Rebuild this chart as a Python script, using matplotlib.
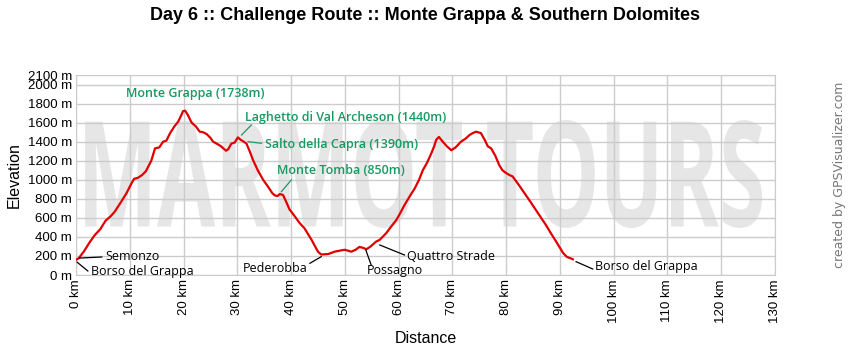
import numpy as np
import matplotlib
matplotlib.use('Agg')
import matplotlib.pyplot as plt
from matplotlib.textpath import TextPath
from matplotlib.patches import PathPatch
from matplotlib.font_manager import FontProperties
from matplotlib.transforms import Affine2D

# profile data (km, m)
dist_km = [0, 0.5, 1.5, 2.5, 3.5, 4.5, 5.5, 6.5, 7.2, 8.3, 9.4, 10.3, 10.8, 11.5, 12.3, 13.0,
           14.0, 14.7, 15.5, 16.2, 16.8, 17.5, 18.3, 19.0, 19.6, 19.9, 20.3, 20.8, 21.5, 22.3,
           23.0, 23.6, 24.3, 25.0, 25.5, 26.3, 27.0, 27.9, 28.3, 28.9, 29.5, 30.1, 30.6, 31.2,
           31.7, 32.3, 32.9, 33.8, 34.8, 35.8, 36.5, 37.0, 37.5, 37.9, 38.5, 39.0, 39.7, 40.7,
           41.6, 42.5, 43.8, 45.0, 45.6, 46.9, 48.1, 49.0, 50.0, 51.2, 52.0, 52.7, 53.4, 54.0,
           54.8, 55.8, 56.5, 57.7, 58.5, 59.6, 60.3, 61.1, 62.0, 63.0, 63.8, 64.5, 65.3, 66.1,
           66.6, 67.0, 67.5, 68.2, 69.0, 69.8, 70.6, 71.6, 72.4, 73.2, 73.8, 74.4, 75.3, 76.0,
           76.6, 77.2, 78.0, 78.7, 79.3, 80.0, 80.6, 81.2, 82.3, 83.4, 84.5, 85.5, 86.5, 87.4,
           88.3, 89.2, 89.9, 90.6, 91.3, 92.0, 92.4]
elev_m = [160, 175, 250, 340, 420, 480, 570, 620, 665, 760, 860, 960, 1010, 1020, 1050, 1090,
          1200, 1330, 1340, 1400, 1410, 1490, 1560, 1610, 1680, 1720, 1725, 1680, 1600, 1560,
          1505, 1500, 1480, 1440, 1400, 1375, 1350, 1305, 1320, 1380, 1390, 1445, 1420, 1400,
          1380, 1300, 1210, 1100, 1000, 920, 860, 835, 830, 850, 840, 780, 690, 615,
          545, 490, 370, 245, 215, 220, 245, 255, 265, 245, 265, 295, 285, 270,
          300, 350, 370, 440, 500, 580, 650, 735, 820, 910, 1000, 1100, 1180, 1280,
          1350, 1420, 1450, 1400, 1350, 1310, 1340, 1400, 1430, 1470, 1490, 1505, 1490, 1420,
          1350, 1330, 1250, 1155, 1100, 1070, 1050, 1035, 950, 860, 770, 685, 600, 525,
          440, 360, 295, 230, 190, 175, 165]

y_ticks = [0, 200, 400, 600, 800, 1000, 1200, 1400, 1600, 1800, 2000, 2100]
x_ticks = list(range(0, 131, 10))

# waypoint names
peak_names = ['Laghetto di Val Archeson (1440m)', 'Salto della Capra (1390m)', 'Monte Tomba (850m)']
town_names = ['Semonzo', 'Borso del Grappa', 'Pederobba', 'Possagno', 'Quattro Strade', 'Borso del Grappa']

title = 'Day 6 :: Challenge Route :: Monte Grappa & Southern Dolomites'
green = '#179a62'
gridc = '#cccccc'
lab_font = 'Open Sans'

fig = plt.figure(figsize=(8.5, 3.5), dpi=100)
ax = fig.add_axes([76/850, 75/350, 699/850, 200/350])
ax.set_xlim(0, 130)
ax.set_ylim(0, 2100)

# watermark
tp = TextPath((0, 0), 'MARMOT TOURS', size=100, prop=FontProperties(family='Open Sans', weight='bold'))
ext = tp.get_extents()
x0, x1, y0, y1 = 1.7, 127.6, 494, 1628
tr = Affine2D().translate(-ext.x0, -ext.y0).scale((x1 - x0) / ext.width, (y1 - y0) / ext.height).translate(x0, y0)
ax.add_patch(PathPatch(tr.transform_path(tp), facecolor='#e6e6e6', edgecolor='none', zorder=0.5))

ax.set_xticks(x_ticks)
ax.set_yticks(y_ticks)
ax.set_xticklabels([f'{v} km' for v in x_ticks], rotation=90, fontsize=9.5, family='Liberation Sans')
ax.set_yticklabels([f'{v} m' for v in y_ticks], fontsize=9.5, family='Liberation Sans')
ax.tick_params(length=0, pad=3)
ax.grid(True, color=gridc, lw=1, zorder=1)
ax.set_axisbelow(True)
for s in ax.spines.values():
    s.set_color(gridc)

ax.plot(dist_km, elev_m, color='#e00000', lw=1.6, zorder=3)

ax.set_ylabel('Elevation', fontsize=11.5, family='Liberation Sans', labelpad=4)
ax.set_xlabel('Distance', fontsize=11.5, family='Liberation Sans', labelpad=6)
fig.suptitle(title, x=0.5, y=0.98, fontsize=13, fontweight='bold', family='Liberation Sans')
fig.text(0.988, 0.5, 'created by GPSVisualizer.com', rotation=90, ha='center', va='center',
         fontsize=9, color='#777777', family='DejaVu Sans')

# labels
ax.text(22.1, 1911, 'Monte Grappa (1738m)', color=green, fontsize=9, family=lab_font,
        ha='center', va='center', fontweight='semibold')

peak_lines = [((30.8, 1470), (32.6, 1575)), ((32.0, 1400), (34.5, 1383)), ((38.2, 875), (40.05, 998))]
peak_text = [(31.4, 1659), (35.1, 1375), (37.3, 1092)]
for name, (p, q), (tx, ty) in zip(peak_names, peak_lines, peak_text):
    ax.plot([p[0], q[0]], [p[1], q[1]], color=green, lw=0.9, zorder=4)
    ax.text(tx, ty, name, color=green, fontsize=9, family=lab_font, ha='left', va='center',
            fontweight='semibold', zorder=5)

town_lines = [((0.7, 178), (4.8, 189)), ((0.2, 135), (2.2, 42)), ((45.6, 192), (43.5, 123)),
              ((53.9, 262), (54.9, 105)), ((56.5, 315), (61.1, 210)), ((93.0, 140), (96.1, 63))]
town_text = [(5.4, 189, 'left'), (2.8, 42, 'left'), (43.1, 73, 'right'),
             (54.1, 45, 'left'), (61.5, 192, 'left'), (96.5, 87, 'left')]
for name, (p, q), (tx, ty, ha) in zip(town_names, town_lines, town_text):
    ax.plot([p[0], q[0]], [p[1], q[1]], color='black', lw=0.9, zorder=4)
    ax.text(tx, ty, name, color='black', fontsize=9, family=lab_font, ha=ha, va='center',
            zorder=5, clip_on=False)

fig.savefig('out.png', dpi=100)
